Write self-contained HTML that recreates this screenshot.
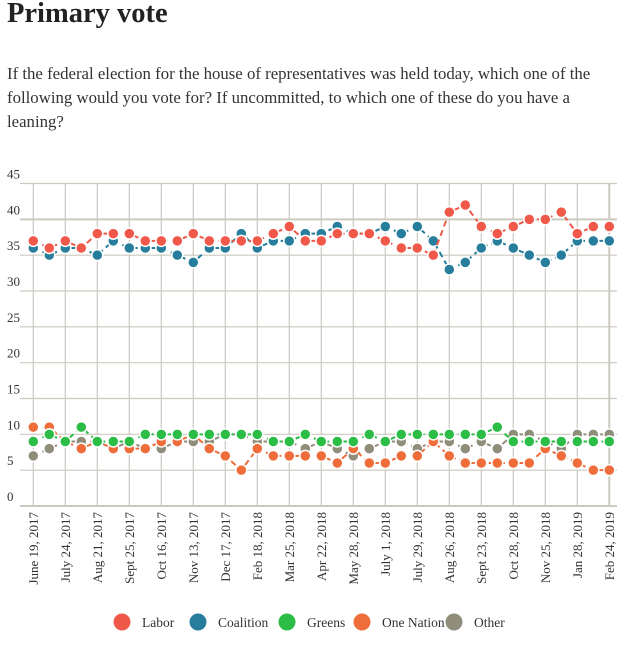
<!DOCTYPE html>
<html><head><meta charset="utf-8"><style>
body{margin:0;background:#fff;width:638px;height:652px;overflow:hidden;font-family:"Liberation Serif",serif;color:#333}
h1{position:absolute;left:7px;top:-3px;margin:0;font-size:28.5px;line-height:34px;font-weight:bold;color:#222}
p{position:absolute;left:7px;top:62px;margin:0;width:600px;font-size:16.8px;line-height:24px;color:#333}
svg{position:absolute;left:0;top:0}
</style></head><body>
<h1>Primary vote</h1>
<p>If the federal election for the house of representatives was held today, which one of the following would you vote for? If uncommitted, to which one of these do you have a leaning?</p>
<svg id="c" width="638" height="652"></svg>
<script>
const labels=["June 19, 2017","July 24, 2017","Aug 21, 2017","Sept 25, 2017","Oct 16, 2017","Nov 13, 2017","Dec 17, 2017","Feb 18, 2018","Mar 25, 2018","Apr 22, 2018","May 28, 2018","July 1, 2018","July 29, 2018","Aug 26, 2018","Sept 23, 2018","Oct 28, 2018","Nov 25, 2018","Jan 28, 2019","Feb 24, 2019"];
const yTicks=[0,5,10,15,20,25,30,35,40,45];
const labor=[37,36,37,36,38,38,38,37,37,37,38,37,37,37,37,38,39,37,37,38,38,38,37,36,36,35,41,42,39,38,39,40,40,41,38,39,39];
const coalition=[36,35,36,36,35,37,36,36,36,35,34,36,36,38,36,37,37,38,38,39,38,38,39,38,39,37,33,34,36,37,36,35,34,35,37,37,37];
const greens=[9,10,9,11,9,9,9,10,10,10,10,10,10,10,10,9,9,10,9,9,9,10,9,10,10,10,10,10,10,11,9,9,9,9,9,9,9];
const oneNation=[11,11,9,8,9,8,8,8,9,9,10,8,7,5,8,7,7,7,7,6,8,6,6,7,7,9,7,6,6,6,6,6,8,7,6,5,5];
const other=[7,8,9,9,9,8,9,8,8,9,9,9,10,10,9,9,9,8,9,8,7,8,9,9,8,9,9,8,9,8,10,10,9,8,10,10,10];
const seriesNames=["Labor","Coalition","Greens","One Nation","Other"];
const colors=["#f0594a","#277e9c","#2cbd47","#ee6d3b","#908d7a"];
const NS="http://www.w3.org/2000/svg",svg=document.getElementById('c');
const x0=33.3,x1=609.3,n=labor.length;
const X=i=>x0+i*(x1-x0)/(n-1);
const Y=v=>506-v*(506-183.5)/45;
function mk(t,a,p){const e=document.createElementNS(NS,t);for(const k in a)e.setAttribute(k,a[k]);(p||svg).appendChild(e);return e;}
for(const t of yTicks){
 const l=mk('line',{x1:20,x2:617,y1:Y(t),y2:Y(t),stroke:'#ccc9bf','stroke-width':(t==0||t==40)?2:1.2});
 
 
 const tx=mk('text',{x:7,y:Y(t)-5,'font-size':13,fill:'#333'});tx.textContent=t;
 
 
}
labels.forEach((lb,j)=>{
 const x=X(j*2);
 const l=mk('line',{x1:x,x2:x,y1:184,y2:506,stroke:'#ccc9bf','stroke-width':j==labels.length-1?2:1.2});
 
 
 const tx=mk('text',{x:0,y:0,'font-size':13,fill:'#333','text-anchor':'end',transform:`translate(${x+4.5},512) rotate(-90)`});tx.textContent=lb;
 
 
});
const all=[labor,coalition,greens,oneNation,other];
const order=[4,3,2,1,0];
for(const s of order){
 const d=all[s];const g=mk('g',{});
 
 
 const pl=mk('polyline',{points:d.map((v,i)=>X(i)+','+Y(v)).join(' '),fill:'none',stroke:colors[s],'stroke-width':2,'stroke-dasharray':'6,4'},g);
 
 
 d.forEach((v,i)=>{const c=mk('circle',{cx:X(i),cy:Y(v),r:5.5,fill:colors[s],stroke:'#fff','stroke-width':1.5},g);
  
  });
}
const lx=[122,198,287,362,454];
seriesNames.forEach((nm,s)=>{
 const c=mk('circle',{cx:lx[s],cy:622,r:8.5,fill:colors[s]});
 
 
 const t=mk('text',{x:lx[s]+20,y:627,'font-size':13.5,fill:'#333'});t.textContent=nm;
 
 
});
</script>
</body></html>
